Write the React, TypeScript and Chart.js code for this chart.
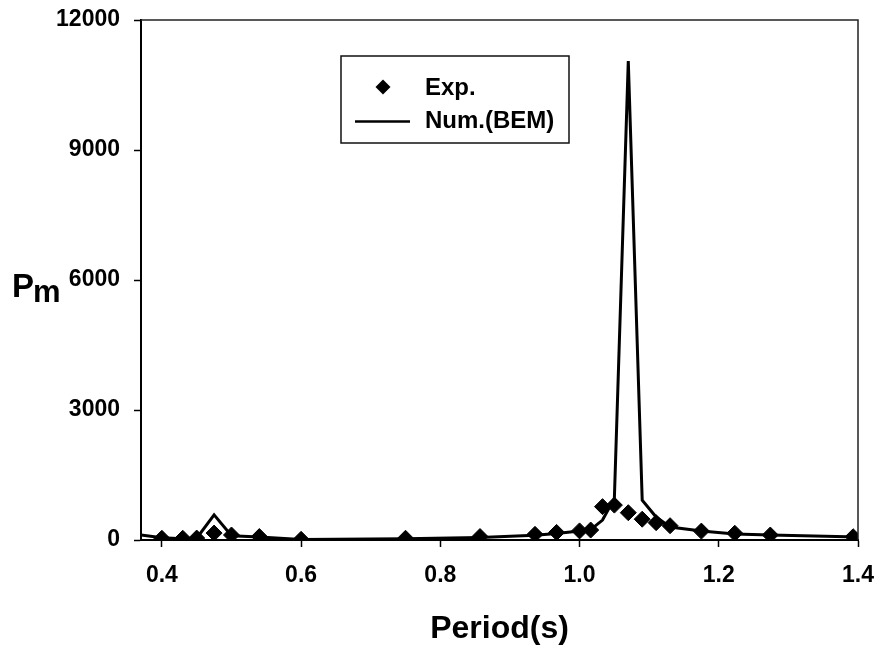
import React, { useEffect, useRef } from "react";
import { Chart, registerables } from "chart.js";

Chart.register(...registerables);

// Measured pressure amplitude (diamonds)
const expPeriod = [0.4, 0.43, 0.45, 0.475, 0.5, 0.54, 0.6, 0.75, 0.857, 0.936, 0.967, 1.0, 1.016, 1.033, 1.05, 1.07, 1.09, 1.11, 1.13, 1.175, 1.223, 1.274, 1.393];
const expPm = [40, 40, 45, 160, 115, 80, 15, 40, 80, 130, 175, 210, 230, 770, 805, 630, 480, 400, 330, 205, 155, 115, 75];

// BEM prediction (solid line)
const numPeriod = [0.37, 0.4, 0.43, 0.45, 0.475, 0.5, 0.54, 0.6, 0.75, 0.857, 0.936, 0.967, 1.0, 1.016, 1.033, 1.05, 1.07, 1.09, 1.11, 1.13, 1.175, 1.223, 1.274, 1.4];
const numPm = [115, 50, 30, 40, 580, 100, 70, 10, 30, 60, 110, 150, 210, 240, 460, 960, 11050, 920, 530, 300, 210, 140, 115, 70];

const xTicks = [0.4, 0.6, 0.8, 1.0, 1.2, 1.4];
const yTicks = [0, 3000, 6000, 9000, 12000];

const legendLabels = ["Exp.", "Num.(BEM)"];
const xTitle = "Period(s)";
const yTitleMain = "P";
const yTitleSub = "m";

const FONT = "'Liberation Sans', Arial, sans-serif";

const framePlugin = {
  id: "frameAndLegend",
  afterDatasetsDraw(chart: any) {
    const { ctx, chartArea } = chart;
    ctx.save();
    // top and right edges of the plot frame
    ctx.strokeStyle = "#222";
    ctx.lineWidth = 1.5;
    ctx.beginPath();
    ctx.moveTo(chartArea.left, chartArea.top);
    ctx.lineTo(chartArea.right, chartArea.top);
    ctx.lineTo(chartArea.right, chartArea.bottom);
    ctx.stroke();

    // legend box
    const bx = 341, by = 56, bw = 228, bh = 87;
    ctx.fillStyle = "#fff";
    ctx.fillRect(bx, by, bw, bh);
    ctx.strokeStyle = "#111";
    ctx.lineWidth = 1.5;
    ctx.strokeRect(bx, by, bw, bh);

    // diamond marker
    const dx = 383, dy = 87, r = 7.5;
    ctx.fillStyle = "#000";
    ctx.beginPath();
    ctx.moveTo(dx, dy - r);
    ctx.lineTo(dx + r, dy);
    ctx.lineTo(dx, dy + r);
    ctx.lineTo(dx - r, dy);
    ctx.closePath();
    ctx.fill();

    // line sample
    ctx.strokeStyle = "#000";
    ctx.lineWidth = 2.5;
    ctx.beginPath();
    ctx.moveTo(355, 121.5);
    ctx.lineTo(410, 121.5);
    ctx.stroke();

    ctx.fillStyle = "#000";
    ctx.font = `bold 24px ${FONT}`;
    ctx.textAlign = "left";
    ctx.textBaseline = "middle";
    ctx.fillText(legendLabels[0], 425, 88);
    ctx.fillText(legendLabels[1], 425, 121);

    // y axis title with subscript
    ctx.textBaseline = "alphabetic";
    ctx.font = `bold 33px ${FONT}`;
    ctx.fillText(yTitleMain, 12, 297);
    ctx.font = `bold 31px ${FONT}`;
    ctx.fillText(yTitleSub, 33, 302);
    ctx.restore();
  },
};

export default function App() {
  const canvasRef = useRef<HTMLCanvasElement | null>(null);

  useEffect(() => {
    const canvas = canvasRef.current;
    if (!canvas) return;
    const chart = new Chart(canvas, {
      type: "scatter",
      data: {
        datasets: [
          {
            label: legendLabels[0],
            data: expPeriod.map((x, i) => ({ x, y: expPm[i] })),
            showLine: false,
            pointStyle: "rectRot",
            pointRadius: 8,
            pointBackgroundColor: "#000",
            pointBorderColor: "#000",
            pointBorderWidth: 1,
            order: 0,
          },
          {
            label: legendLabels[1],
            data: numPeriod.map((x, i) => ({ x, y: numPm[i] })),
            showLine: true,
            borderColor: "#000",
            borderWidth: 3,
            pointRadius: 0,
            tension: 0,
            order: 1,
          },
        ],
      },
      options: {
        responsive: false,
        animation: false,
        layout: { padding: { top: 20, right: 20, left: 0, bottom: 0 } },
        plugins: {
          legend: { display: false },
          tooltip: { enabled: false },
        },
        scales: {
          x: {
            type: "linear",
            min: 0.37,
            max: 1.4,
            afterBuildTicks: (scale: any) => {
              scale.ticks = xTicks.map((v) => ({ value: v }));
            },
            afterFit: (scale: any) => {
              scale.height = 108;
              scale.paddingLeft = 0;
              scale.paddingRight = 0;
            },
            border: { color: "#000", width: 2 },
            grid: {
              drawOnChartArea: false,
              drawTicks: true,
              tickLength: 7,
              tickColor: "#000",
              tickWidth: 1.5,
            },
            ticks: {
              color: "#000",
              padding: 15,
              maxRotation: 0,
              font: { family: FONT, size: 23, weight: "bold" },
              callback: (v: any) => Number(v).toFixed(1),
            },
            title: {
              display: true,
              text: xTitle,
              color: "#000",
              font: { family: FONT, size: 32, weight: "bold" },
              padding: { top: 0, bottom: 0 },
            },
          },
          y: {
            type: "linear",
            min: 0,
            max: 12000,
            afterBuildTicks: (scale: any) => {
              scale.ticks = yTicks.map((v) => ({ value: v }));
            },
            afterFit: (scale: any) => {
              scale.width = 141;
              scale.paddingTop = 0;
              scale.paddingBottom = 0;
            },
            border: { color: "#000", width: 2 },
            grid: {
              drawOnChartArea: false,
              drawTicks: true,
              tickLength: 7,
              tickColor: "#000",
              tickWidth: 1.5,
            },
            ticks: {
              color: "#000",
              padding: 14,
              font: { family: FONT, size: 23, weight: "bold" },
              callback: (v: any) => String(v),
            },
          },
        },
      },
      plugins: [framePlugin],
    } as any);
    return () => chart.destroy();
  }, []);

  return (
    <div style={{ position: "fixed", left: 0, top: 0, width: 878, height: 648, background: "#fff" }}>
      <canvas ref={canvasRef} width={878} height={648} style={{ display: "block" }} />
    </div>
  );
}
